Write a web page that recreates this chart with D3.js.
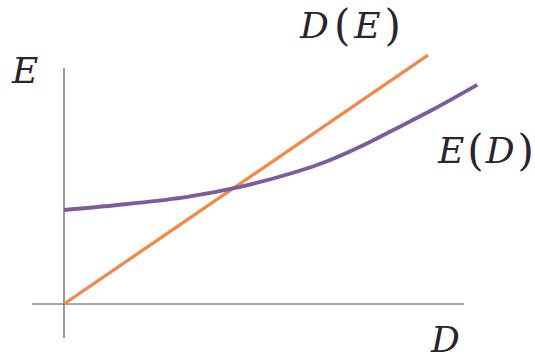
<!DOCTYPE html>
<html>
<head>
<meta charset="utf-8">
<script src="https://cdn.jsdelivr.net/npm/d3@7"></script>
<style>
  body { margin: 0; background: #fff; }
</style>
</head>
<body>
<div id="chart"></div>
<script>
// D(E): straight line from origin
var dOfE_x = [0, 9.1];
var dOfE_y = [0, 6.22];

// E(D): curve
var eOfD_x = [0, 1.58, 3.08, 4.4, 5.73, 6.58, 7.4, 8.23, 9.2, 10.33];
var eOfD_y = [2.35, 2.5, 2.68, 2.93, 3.28, 3.57, 3.93, 4.35, 4.85, 5.48];

var W = 535, H = 358;
var FONT = "DejaVu Serif";

// origin at (64, 304), 40px per unit
var x = d3.scaleLinear().domain([-0.8, 10]).range([32, 464]);
var y = d3.scaleLinear().domain([-0.85, 5.9]).range([338, 68]);

var svg = d3.select("#chart")
  .append("svg")
    .attr("width", W)
    .attr("height", H);

// axes
svg.append("line")
    .attr("x1", x(-0.8)).attr("x2", x(10))
    .attr("y1", y(0)).attr("y2", y(0))
    .attr("stroke", "#8c8a90")
    .attr("stroke-width", 1.6);
svg.append("line")
    .attr("x1", x(0)).attr("x2", x(0))
    .attr("y1", y(-0.85)).attr("y2", y(5.9))
    .attr("stroke", "#5a5060")
    .attr("stroke-width", 1.2);

var line = d3.line()
    .x(function(d) { return x(d[0]); })
    .y(function(d) { return y(d[1]); });

svg.append("path")
    .datum(dOfE_x.map(function(v, i) { return [v, dOfE_y[i]]; }))
    .attr("d", line)
    .attr("fill", "none")
    .attr("stroke", "#ef8a4b")
    .attr("stroke-width", 3.3);

svg.append("path")
    .datum(eOfD_x.map(function(v, i) { return [v, eOfD_y[i]]; }))
    .attr("d", line.curve(d3.curveCatmullRom))
    .attr("fill", "none")
    .attr("stroke", "#7d5c9b")
    .attr("stroke-width", 3.8);

// labels
function label(px, py, parts) {
  var t = svg.append("text")
      .attr("x", px).attr("y", py)
      .attr("font-family", FONT)
      .attr("font-size", 36)
      .attr("fill", "#2d2230");
  parts.forEach(function(p) {
    var s = t.append("tspan").text(p.t);
    if (p.paren) {
      s.attr("font-style", "normal").attr("font-size", 42);
    } else {
      s.attr("font-style", "italic");
    }
    if (p.dy) s.attr("dy", p.dy);
    if (p.dx) s.attr("dx", p.dx);
  });
}

label(12, 83, [{t: "E"}]);
label(300, 38, [{t: "D"}, {t: "(", paren: true, dy: 2, dx: 5}, {t: "E", dy: -2, dx: 4}, {t: ")", paren: true, dy: 2, dx: 4}]);
label(438, 163, [{t: "E"}, {t: "(", paren: true, dy: 2, dx: 3}, {t: "D", dy: -2, dx: 2}, {t: ")", paren: true, dy: 2, dx: 3}]);
label(431, 352, [{t: "D"}]);
</script>
</body>
</html>
